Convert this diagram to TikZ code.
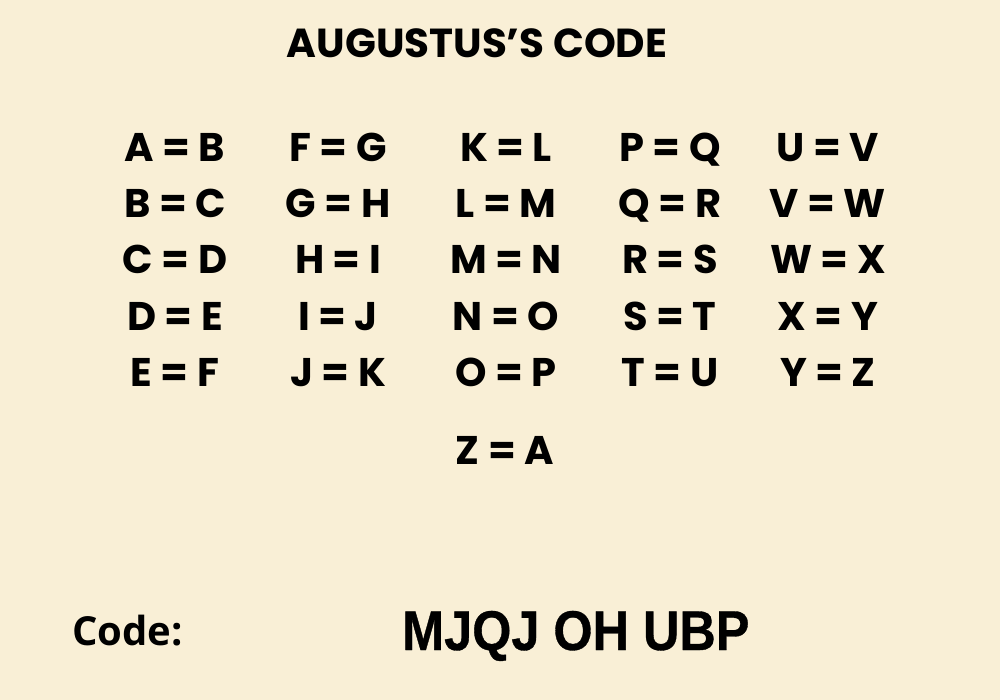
\documentclass[tikz,border=0pt]{standalone}
\usepackage{fontspec}
\usepackage{xcolor}
\usepackage{tikz}
\usetikzlibrary{calc}

\newfontfamily\gridfont{Poppins}
\newfontfamily\codefont{Open Sans}
\newfontfamily\cipherfont{Liberation Sans}[FakeStretch=0.9, FakeBold=0.6]
\definecolor{Parchment}{RGB}{249,239,214}

\tikzset{
	pair/.style={anchor=base, inner sep=0pt, font=\gridfont\bfseries\fontsize{40}{48}\selectfont},
	heading/.style={anchor=base, inner sep=0pt, font=\gridfont\bfseries\fontsize{40.5}{48}\selectfont},
	codelabel/.style={anchor=base west, inner sep=0pt, font=\codefont\bfseries\fontsize{40}{48}\selectfont},
	cipher/.style={anchor=base west, inner sep=0pt, font=\cipherfont\bfseries\fontsize{56}{64}\selectfont}
}

\begin{document}
\begin{tikzpicture}[x=1pt, y=-1pt]

	\fill[Parchment] (0,0) rectangle (1000,700);
	\useasboundingbox (0,0) rectangle (1000,700);

	\node[heading] (title) at (477,58) {AUGUSTUS’S CODE};

	\node[pair] (ab) at (175,162) {A = B};
	\node[pair] (bc) at (175,218) {B = C};
	\node[pair] (cd) at (175,274) {C = D};
	\node[pair] (de) at (175,330) {D = E};
	\node[pair] (ef) at (175,386) {E = F};

	\node[pair] (fg) at (338,162) {F = G};
	\node[pair] (gh) at (338,218) {G = H};
	\node[pair] (hi) at (338,274) {H = I};
	\node[pair] (ij) at (338,330) {I = J};
	\node[pair] (jk) at (338,386) {J = K};

	\node[pair] (kl) at (506,162) {K = L};
	\node[pair] (lm) at (506,218) {L = M};
	\node[pair] (mn) at (506,274) {M = N};
	\node[pair] (no) at (506,330) {N = O};
	\node[pair] (op) at (506,386) {O = P};

	\node[pair] (pq) at (670,162) {P = Q};
	\node[pair] (qr) at (670,218) {Q = R};
	\node[pair] (rs) at (670,274) {R = S};
	\node[pair] (st) at (670,330) {S = T};
	\node[pair] (tu) at (670,386) {T = U};

	\node[pair] (uv) at (828,162) {U = V};
	\node[pair] (vw) at (828,218) {V = W};
	\node[pair] (wx) at (828,274) {W = X};
	\node[pair] (xy) at (828,330) {X = Y};
	\node[pair] (yz) at (828,386) {Y = Z};

	\node[pair] (za) at (505,464) {Z = A};

	\node[codelabel] (code) at (72,645) {Code:};
	\node[cipher] (message) at (402,650) {MJQJ OH UBP};

\end{tikzpicture}
\end{document}
